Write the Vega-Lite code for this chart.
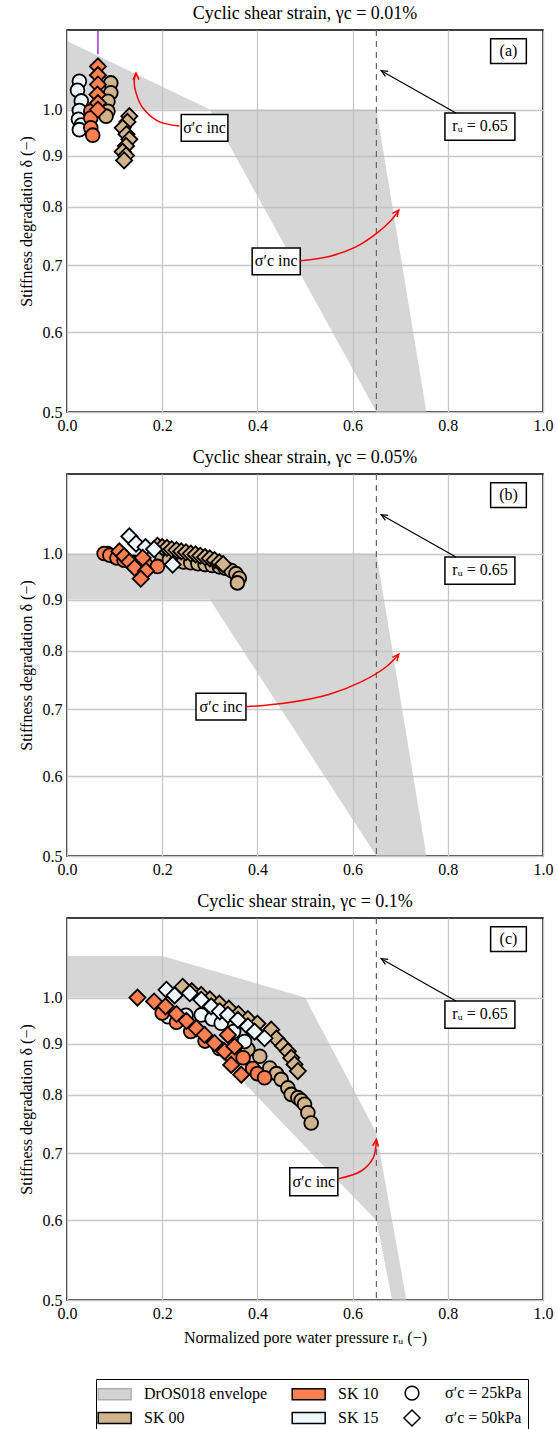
{
  "$schema": "https://vega.github.io/schema/vega-lite/v6.json",
  "padding": {"left": 17, "top": 4, "right": 5, "bottom": 0},
  "bounds": "flush",
  "spacing": 62,
  "datasets": {
    "env": [
      {"p": "a", "x": 0, "hi": 1.17, "lo": 1.0}, {"p": "a", "x": 0.3, "hi": 1.0, "lo": 1.0}, {"p": "a", "x": 0.65, "hi": 1.0, "lo": 0.5}, {"p": "a", "x": 0.755, "hi": 0.5, "lo": 0.5},
      {"p": "b", "x": 0, "hi": 1.0, "lo": 0.9}, {"p": "b", "x": 0.3, "hi": 1.0, "lo": 0.9}, {"p": "b", "x": 0.65, "hi": 1.0, "lo": 0.5}, {"p": "b", "x": 0.755, "hi": 0.5, "lo": 0.5},
      {"p": "c", "x": 0, "hi": 1.1, "lo": 1.0}, {"p": "c", "x": 0.2, "hi": 1.1, "lo": 1.0}, {"p": "c", "x": 0.5, "hi": 1.0, "lo": 0.711}, {"p": "c", "x": 0.65, "hi": 0.733, "lo": 0.6}, {"p": "c", "x": 0.683, "hi": 0.6, "lo": 0.5}, {"p": "c", "x": 0.713, "hi": 0.5, "lo": 0.5}
    ],
    "pts": [
      {"p": "a", "s": "SK 00", "c": "σ′c = 25kPa", "x": 0.092, "y": 1.063},
      {"p": "a", "s": "SK 00", "c": "σ′c = 25kPa", "x": 0.092, "y": 1.039},
      {"p": "a", "s": "SK 00", "c": "σ′c = 25kPa", "x": 0.086, "y": 1.019},
      {"p": "a", "s": "SK 00", "c": "σ′c = 25kPa", "x": 0.086, "y": 0.996},
      {"p": "a", "s": "SK 00", "c": "σ′c = 25kPa", "x": 0.082, "y": 0.985},
      {"p": "a", "s": "SK 00", "c": "σ′c = 50kPa", "x": 0.131, "y": 0.985},
      {"p": "a", "s": "SK 00", "c": "σ′c = 50kPa", "x": 0.127, "y": 0.972},
      {"p": "a", "s": "SK 00", "c": "σ′c = 50kPa", "x": 0.117, "y": 0.959},
      {"p": "a", "s": "SK 00", "c": "σ′c = 50kPa", "x": 0.125, "y": 0.945},
      {"p": "a", "s": "SK 00", "c": "σ′c = 50kPa", "x": 0.131, "y": 0.934},
      {"p": "a", "s": "SK 00", "c": "σ′c = 50kPa", "x": 0.124, "y": 0.92},
      {"p": "a", "s": "SK 00", "c": "σ′c = 50kPa", "x": 0.117, "y": 0.908},
      {"p": "a", "s": "SK 00", "c": "σ′c = 50kPa", "x": 0.124, "y": 0.9},
      {"p": "a", "s": "SK 00", "c": "σ′c = 50kPa", "x": 0.12, "y": 0.89},
      {"p": "a", "s": "SK 15", "c": "σ′c = 25kPa", "x": 0.026, "y": 1.067},
      {"p": "a", "s": "SK 15", "c": "σ′c = 25kPa", "x": 0.022, "y": 1.045},
      {"p": "a", "s": "SK 15", "c": "σ′c = 25kPa", "x": 0.03, "y": 1.02},
      {"p": "a", "s": "SK 15", "c": "σ′c = 25kPa", "x": 0.026, "y": 0.998},
      {"p": "a", "s": "SK 15", "c": "σ′c = 25kPa", "x": 0.024, "y": 0.978},
      {"p": "a", "s": "SK 15", "c": "σ′c = 25kPa", "x": 0.03, "y": 0.965},
      {"p": "a", "s": "SK 15", "c": "σ′c = 25kPa", "x": 0.026, "y": 0.955},
      {"p": "a", "s": "SK 10", "c": "σ′c = 25kPa", "x": 0.05, "y": 0.996},
      {"p": "a", "s": "SK 10", "c": "σ′c = 25kPa", "x": 0.05, "y": 0.981},
      {"p": "a", "s": "SK 10", "c": "σ′c = 25kPa", "x": 0.05, "y": 0.959},
      {"p": "a", "s": "SK 10", "c": "σ′c = 25kPa", "x": 0.054, "y": 0.943},
      {"p": "a", "s": "SK 10", "c": "σ′c = 50kPa", "x": 0.065, "y": 1.104},
      {"p": "a", "s": "SK 10", "c": "σ′c = 50kPa", "x": 0.065, "y": 1.082},
      {"p": "a", "s": "SK 10", "c": "σ′c = 50kPa", "x": 0.065, "y": 1.059},
      {"p": "a", "s": "SK 10", "c": "σ′c = 50kPa", "x": 0.064, "y": 1.035},
      {"p": "a", "s": "SK 10", "c": "σ′c = 50kPa", "x": 0.065, "y": 1.015},
      {"p": "a", "s": "SK 10", "c": "σ′c = 50kPa", "x": 0.065, "y": 1.0},

      {"p": "b", "s": "SK 00", "c": "σ′c = 25kPa", "x": 0.2, "y": 0.99},
      {"p": "b", "s": "SK 00", "c": "σ′c = 25kPa", "x": 0.215, "y": 0.986},
      {"p": "b", "s": "SK 00", "c": "σ′c = 25kPa", "x": 0.23, "y": 0.983},
      {"p": "b", "s": "SK 00", "c": "σ′c = 25kPa", "x": 0.245, "y": 0.981},
      {"p": "b", "s": "SK 00", "c": "σ′c = 25kPa", "x": 0.26, "y": 0.979},
      {"p": "b", "s": "SK 00", "c": "σ′c = 25kPa", "x": 0.275, "y": 0.977},
      {"p": "b", "s": "SK 00", "c": "σ′c = 25kPa", "x": 0.29, "y": 0.975},
      {"p": "b", "s": "SK 00", "c": "σ′c = 25kPa", "x": 0.305, "y": 0.973},
      {"p": "b", "s": "SK 00", "c": "σ′c = 25kPa", "x": 0.32, "y": 0.97},
      {"p": "b", "s": "SK 00", "c": "σ′c = 25kPa", "x": 0.333, "y": 0.967},
      {"p": "b", "s": "SK 00", "c": "σ′c = 25kPa", "x": 0.345, "y": 0.962},
      {"p": "b", "s": "SK 00", "c": "σ′c = 25kPa", "x": 0.355, "y": 0.955},
      {"p": "b", "s": "SK 00", "c": "σ′c = 25kPa", "x": 0.362, "y": 0.945},
      {"p": "b", "s": "SK 00", "c": "σ′c = 25kPa", "x": 0.358, "y": 0.935},
      {"p": "b", "s": "SK 00", "c": "σ′c = 50kPa", "x": 0.19, "y": 1.018},
      {"p": "b", "s": "SK 00", "c": "σ′c = 50kPa", "x": 0.2, "y": 1.015},
      {"p": "b", "s": "SK 00", "c": "σ′c = 50kPa", "x": 0.21, "y": 1.013},
      {"p": "b", "s": "SK 00", "c": "σ′c = 50kPa", "x": 0.22, "y": 1.01},
      {"p": "b", "s": "SK 00", "c": "σ′c = 50kPa", "x": 0.23, "y": 1.008},
      {"p": "b", "s": "SK 00", "c": "σ′c = 50kPa", "x": 0.24, "y": 1.005},
      {"p": "b", "s": "SK 00", "c": "σ′c = 50kPa", "x": 0.25, "y": 1.003},
      {"p": "b", "s": "SK 00", "c": "σ′c = 50kPa", "x": 0.26, "y": 1.0},
      {"p": "b", "s": "SK 00", "c": "σ′c = 50kPa", "x": 0.27, "y": 0.998},
      {"p": "b", "s": "SK 00", "c": "σ′c = 50kPa", "x": 0.28, "y": 0.995},
      {"p": "b", "s": "SK 00", "c": "σ′c = 50kPa", "x": 0.29, "y": 0.992},
      {"p": "b", "s": "SK 00", "c": "σ′c = 50kPa", "x": 0.3, "y": 0.989},
      {"p": "b", "s": "SK 00", "c": "σ′c = 50kPa", "x": 0.31, "y": 0.985},
      {"p": "b", "s": "SK 00", "c": "σ′c = 50kPa", "x": 0.32, "y": 0.98},
      {"p": "b", "s": "SK 00", "c": "σ′c = 50kPa", "x": 0.328, "y": 0.976},
      {"p": "b", "s": "SK 15", "c": "σ′c = 25kPa", "x": 0.085, "y": 1.0},
      {"p": "b", "s": "SK 15", "c": "σ′c = 25kPa", "x": 0.1, "y": 0.993},
      {"p": "b", "s": "SK 15", "c": "σ′c = 25kPa", "x": 0.12, "y": 0.986},
      {"p": "b", "s": "SK 15", "c": "σ′c = 25kPa", "x": 0.14, "y": 0.98},
      {"p": "b", "s": "SK 15", "c": "σ′c = 50kPa", "x": 0.131, "y": 1.04},
      {"p": "b", "s": "SK 15", "c": "σ′c = 50kPa", "x": 0.145, "y": 1.023},
      {"p": "b", "s": "SK 15", "c": "σ′c = 50kPa", "x": 0.165, "y": 1.015},
      {"p": "b", "s": "SK 15", "c": "σ′c = 50kPa", "x": 0.183, "y": 1.01},
      {"p": "b", "s": "SK 15", "c": "σ′c = 50kPa", "x": 0.222, "y": 0.975},
      {"p": "b", "s": "SK 10", "c": "σ′c = 25kPa", "x": 0.078, "y": 1.0},
      {"p": "b", "s": "SK 10", "c": "σ′c = 25kPa", "x": 0.09, "y": 0.996},
      {"p": "b", "s": "SK 10", "c": "σ′c = 25kPa", "x": 0.105, "y": 0.99},
      {"p": "b", "s": "SK 10", "c": "σ′c = 25kPa", "x": 0.12, "y": 0.985},
      {"p": "b", "s": "SK 10", "c": "σ′c = 25kPa", "x": 0.14, "y": 0.979},
      {"p": "b", "s": "SK 10", "c": "σ′c = 25kPa", "x": 0.165, "y": 0.975},
      {"p": "b", "s": "SK 10", "c": "σ′c = 25kPa", "x": 0.19, "y": 0.971},
      {"p": "b", "s": "SK 10", "c": "σ′c = 50kPa", "x": 0.11, "y": 1.005},
      {"p": "b", "s": "SK 10", "c": "σ′c = 50kPa", "x": 0.12, "y": 0.994},
      {"p": "b", "s": "SK 10", "c": "σ′c = 50kPa", "x": 0.131, "y": 0.981},
      {"p": "b", "s": "SK 10", "c": "σ′c = 50kPa", "x": 0.159, "y": 0.99},
      {"p": "b", "s": "SK 10", "c": "σ′c = 50kPa", "x": 0.142, "y": 0.968},
      {"p": "b", "s": "SK 10", "c": "σ′c = 50kPa", "x": 0.166, "y": 0.961},
      {"p": "b", "s": "SK 10", "c": "σ′c = 50kPa", "x": 0.155, "y": 0.944},

      {"p": "c", "s": "SK 00", "c": "σ′c = 25kPa", "x": 0.36, "y": 0.9},
      {"p": "c", "s": "SK 00", "c": "σ′c = 25kPa", "x": 0.38, "y": 0.888},
      {"p": "c", "s": "SK 00", "c": "σ′c = 25kPa", "x": 0.405, "y": 0.874},
      {"p": "c", "s": "SK 00", "c": "σ′c = 25kPa", "x": 0.426, "y": 0.851},
      {"p": "c", "s": "SK 00", "c": "σ′c = 25kPa", "x": 0.44, "y": 0.84},
      {"p": "c", "s": "SK 00", "c": "σ′c = 25kPa", "x": 0.45, "y": 0.829},
      {"p": "c", "s": "SK 00", "c": "σ′c = 25kPa", "x": 0.464, "y": 0.813},
      {"p": "c", "s": "SK 00", "c": "σ′c = 25kPa", "x": 0.471, "y": 0.801},
      {"p": "c", "s": "SK 00", "c": "σ′c = 25kPa", "x": 0.485, "y": 0.795},
      {"p": "c", "s": "SK 00", "c": "σ′c = 25kPa", "x": 0.492, "y": 0.79},
      {"p": "c", "s": "SK 00", "c": "σ′c = 25kPa", "x": 0.499, "y": 0.783},
      {"p": "c", "s": "SK 00", "c": "σ′c = 25kPa", "x": 0.506, "y": 0.768},
      {"p": "c", "s": "SK 00", "c": "σ′c = 25kPa", "x": 0.513, "y": 0.75},
      {"p": "c", "s": "SK 00", "c": "σ′c = 50kPa", "x": 0.243, "y": 1.025},
      {"p": "c", "s": "SK 00", "c": "σ′c = 50kPa", "x": 0.262, "y": 1.015},
      {"p": "c", "s": "SK 00", "c": "σ′c = 50kPa", "x": 0.282, "y": 1.006},
      {"p": "c", "s": "SK 00", "c": "σ′c = 50kPa", "x": 0.3, "y": 0.996},
      {"p": "c", "s": "SK 00", "c": "σ′c = 50kPa", "x": 0.32, "y": 0.986},
      {"p": "c", "s": "SK 00", "c": "σ′c = 50kPa", "x": 0.34, "y": 0.975},
      {"p": "c", "s": "SK 00", "c": "σ′c = 50kPa", "x": 0.36, "y": 0.963},
      {"p": "c", "s": "SK 00", "c": "σ′c = 50kPa", "x": 0.38, "y": 0.952},
      {"p": "c", "s": "SK 00", "c": "σ′c = 50kPa", "x": 0.4, "y": 0.942},
      {"p": "c", "s": "SK 00", "c": "σ′c = 50kPa", "x": 0.429, "y": 0.929},
      {"p": "c", "s": "SK 00", "c": "σ′c = 50kPa", "x": 0.44, "y": 0.91},
      {"p": "c", "s": "SK 00", "c": "σ′c = 50kPa", "x": 0.454, "y": 0.895},
      {"p": "c", "s": "SK 00", "c": "σ′c = 50kPa", "x": 0.464, "y": 0.884},
      {"p": "c", "s": "SK 00", "c": "σ′c = 50kPa", "x": 0.471, "y": 0.871},
      {"p": "c", "s": "SK 00", "c": "σ′c = 50kPa", "x": 0.478, "y": 0.858},
      {"p": "c", "s": "SK 00", "c": "σ′c = 50kPa", "x": 0.485, "y": 0.845},
      {"p": "c", "s": "SK 15", "c": "σ′c = 25kPa", "x": 0.212, "y": 0.957},
      {"p": "c", "s": "SK 15", "c": "σ′c = 25kPa", "x": 0.25, "y": 0.96},
      {"p": "c", "s": "SK 15", "c": "σ′c = 25kPa", "x": 0.282, "y": 0.961},
      {"p": "c", "s": "SK 15", "c": "σ′c = 25kPa", "x": 0.305, "y": 0.952},
      {"p": "c", "s": "SK 15", "c": "σ′c = 25kPa", "x": 0.324, "y": 0.943},
      {"p": "c", "s": "SK 15", "c": "σ′c = 25kPa", "x": 0.35, "y": 0.925},
      {"p": "c", "s": "SK 15", "c": "σ′c = 25kPa", "x": 0.373, "y": 0.904},
      {"p": "c", "s": "SK 15", "c": "σ′c = 50kPa", "x": 0.209, "y": 1.018},
      {"p": "c", "s": "SK 15", "c": "σ′c = 50kPa", "x": 0.226, "y": 1.005},
      {"p": "c", "s": "SK 15", "c": "σ′c = 50kPa", "x": 0.258, "y": 1.01},
      {"p": "c", "s": "SK 15", "c": "σ′c = 50kPa", "x": 0.282, "y": 0.995},
      {"p": "c", "s": "SK 15", "c": "σ′c = 50kPa", "x": 0.303, "y": 0.98},
      {"p": "c", "s": "SK 15", "c": "σ′c = 50kPa", "x": 0.321, "y": 0.969},
      {"p": "c", "s": "SK 15", "c": "σ′c = 50kPa", "x": 0.338, "y": 0.961},
      {"p": "c", "s": "SK 15", "c": "σ′c = 50kPa", "x": 0.359, "y": 0.95},
      {"p": "c", "s": "SK 15", "c": "σ′c = 50kPa", "x": 0.38, "y": 0.936},
      {"p": "c", "s": "SK 15", "c": "σ′c = 50kPa", "x": 0.394, "y": 0.925},
      {"p": "c", "s": "SK 15", "c": "σ′c = 50kPa", "x": 0.415, "y": 0.911},
      {"p": "c", "s": "SK 10", "c": "σ′c = 25kPa", "x": 0.2, "y": 0.965},
      {"p": "c", "s": "SK 10", "c": "σ′c = 25kPa", "x": 0.23, "y": 0.945},
      {"p": "c", "s": "SK 10", "c": "σ′c = 25kPa", "x": 0.26, "y": 0.925},
      {"p": "c", "s": "SK 10", "c": "σ′c = 25kPa", "x": 0.29, "y": 0.905},
      {"p": "c", "s": "SK 10", "c": "σ′c = 25kPa", "x": 0.32, "y": 0.89},
      {"p": "c", "s": "SK 10", "c": "σ′c = 25kPa", "x": 0.345, "y": 0.875},
      {"p": "c", "s": "SK 10", "c": "σ′c = 25kPa", "x": 0.37, "y": 0.871},
      {"p": "c", "s": "SK 10", "c": "σ′c = 25kPa", "x": 0.39, "y": 0.85},
      {"p": "c", "s": "SK 10", "c": "σ′c = 25kPa", "x": 0.4, "y": 0.84},
      {"p": "c", "s": "SK 10", "c": "σ′c = 25kPa", "x": 0.415, "y": 0.832},
      {"p": "c", "s": "SK 10", "c": "σ′c = 50kPa", "x": 0.148, "y": 1.0},
      {"p": "c", "s": "SK 10", "c": "σ′c = 50kPa", "x": 0.183, "y": 0.991},
      {"p": "c", "s": "SK 10", "c": "σ′c = 50kPa", "x": 0.207, "y": 0.98},
      {"p": "c", "s": "SK 10", "c": "σ′c = 50kPa", "x": 0.23, "y": 0.963},
      {"p": "c", "s": "SK 10", "c": "σ′c = 50kPa", "x": 0.251, "y": 0.948},
      {"p": "c", "s": "SK 10", "c": "σ′c = 50kPa", "x": 0.272, "y": 0.932},
      {"p": "c", "s": "SK 10", "c": "σ′c = 50kPa", "x": 0.289, "y": 0.918},
      {"p": "c", "s": "SK 10", "c": "σ′c = 50kPa", "x": 0.31, "y": 0.901},
      {"p": "c", "s": "SK 10", "c": "σ′c = 50kPa", "x": 0.331, "y": 0.884},
      {"p": "c", "s": "SK 10", "c": "σ′c = 50kPa", "x": 0.338, "y": 0.918},
      {"p": "c", "s": "SK 10", "c": "σ′c = 50kPa", "x": 0.352, "y": 0.894},
      {"p": "c", "s": "SK 10", "c": "σ′c = 50kPa", "x": 0.345, "y": 0.857},
      {"p": "c", "s": "SK 10", "c": "σ′c = 50kPa", "x": 0.366, "y": 0.838}
    ],
    "bx": [
      {"p": "a", "x": 0.89, "x2": 0.965, "y": 1.111, "y2": 1.176},
      {"p": "a", "x": 0.794, "x2": 0.941, "y": 0.932, "y2": 0.992},
      {"p": "a", "x": 0.24, "x2": 0.338, "y": 0.93, "y2": 0.989},
      {"p": "a", "x": 0.389, "x2": 0.49, "y": 0.685, "y2": 0.728},
      {"p": "b", "x": 0.89, "x2": 0.965, "y": 1.111, "y2": 1.176},
      {"p": "b", "x": 0.794, "x2": 0.941, "y": 0.932, "y2": 0.992},
      {"p": "b", "x": 0.271, "x2": 0.376, "y": 0.683, "y2": 0.726},
      {"p": "c", "x": 0.89, "x2": 0.965, "y": 1.111, "y2": 1.176},
      {"p": "c", "x": 0.794, "x2": 0.941, "y": 0.932, "y2": 0.992},
      {"p": "c", "x": 0.468, "x2": 0.569, "y": 0.635, "y2": 0.677}
    ],
    "tx": [
      {"p": "a", "x": 0.9275, "y": 1.143, "t": "(a)"},
      {"p": "a", "x": 0.8675, "y": 0.962, "t": "rᵤ = 0.65"},
      {"p": "a", "x": 0.289, "y": 0.959, "t": "σ′c inc"},
      {"p": "a", "x": 0.4395, "y": 0.706, "t": "σ′c inc"},
      {"p": "b", "x": 0.9275, "y": 1.143, "t": "(b)"},
      {"p": "b", "x": 0.8675, "y": 0.962, "t": "rᵤ = 0.65"},
      {"p": "b", "x": 0.3235, "y": 0.704, "t": "σ′c inc"},
      {"p": "c", "x": 0.9275, "y": 1.143, "t": "(c)"},
      {"p": "c", "x": 0.8675, "y": 0.962, "t": "rᵤ = 0.65"},
      {"p": "c", "x": 0.5185, "y": 0.655, "t": "σ′c inc"}
    ],
    "arw": [
      {"p": "a", "x": 0.817, "y": 0.992, "x2": 0.66, "y2": 1.093},
      {"p": "b", "x": 0.817, "y": 0.992, "x2": 0.66, "y2": 1.093},
      {"p": "c", "x": 0.817, "y": 0.992, "x2": 0.66, "y2": 1.093}
    ],
    "hd": [
      {"p": "a", "k": "b", "x": 0.66, "y": 1.093},
      {"p": "b", "k": "b", "x": 0.66, "y": 1.093},
      {"p": "c", "k": "b", "x": 0.66, "y": 1.093},
      {"p": "a", "k": "r0", "x": 0.145, "y": 1.087},
      {"p": "a", "k": "r39", "x": 0.697, "y": 0.794},
      {"p": "b", "k": "r39", "x": 0.697, "y": 0.794},
      {"p": "c", "k": "r8", "x": 0.65, "y": 0.722}
    ],
    "crv": [
      {"p": "a", "k": "a1", "i": 0, "x": 0.236, "y": 0.963},
      {"p": "a", "k": "a1", "i": 1, "x": 0.191, "y": 0.974},
      {"p": "a", "k": "a1", "i": 2, "x": 0.159, "y": 1.004},
      {"p": "a", "k": "a1", "i": 3, "x": 0.145, "y": 1.039},
      {"p": "a", "k": "a1", "i": 4, "x": 0.141, "y": 1.067},
      {"p": "a", "k": "a1", "i": 5, "x": 0.145, "y": 1.087},
      {"p": "a", "k": "a2", "i": 0, "x": 0.49, "y": 0.707},
      {"p": "a", "k": "a2", "i": 1, "x": 0.555, "y": 0.715},
      {"p": "a", "k": "a2", "i": 2, "x": 0.607, "y": 0.73},
      {"p": "a", "k": "a2", "i": 3, "x": 0.649, "y": 0.752},
      {"p": "a", "k": "a2", "i": 4, "x": 0.681, "y": 0.776},
      {"p": "a", "k": "a2", "i": 5, "x": 0.697, "y": 0.794},
      {"p": "b", "k": "b1", "i": 0, "x": 0.376, "y": 0.704},
      {"p": "b", "k": "b1", "i": 1, "x": 0.46, "y": 0.71},
      {"p": "b", "k": "b1", "i": 2, "x": 0.55, "y": 0.724},
      {"p": "b", "k": "b1", "i": 3, "x": 0.62, "y": 0.746},
      {"p": "b", "k": "b1", "i": 4, "x": 0.67, "y": 0.771},
      {"p": "b", "k": "b1", "i": 5, "x": 0.697, "y": 0.794},
      {"p": "c", "k": "c1", "i": 0, "x": 0.569, "y": 0.66},
      {"p": "c", "k": "c1", "i": 1, "x": 0.618, "y": 0.672},
      {"p": "c", "k": "c1", "i": 2, "x": 0.643, "y": 0.692},
      {"p": "c", "k": "c1", "i": 3, "x": 0.65, "y": 0.722}
    ]
  },
  "vconcat": [
    {
      "width": 476, "height": 382,
      "title": "Cyclic shear strain, γc = 0.01%",
      "layer": [
        {"data": {"name": "env"}, "transform": [{"filter": "datum.p == 'a'"}],
         "mark": {"type": "area", "fill": "#c0c0c0", "opacity": 0.65},
         "encoding": {
           "x": {"field": "x", "type": "quantitative", "scale": {"domain": [0, 1], "nice": false, "zero": false}, "axis": {"values": [0, 0.2, 0.4, 0.6, 0.8, 1], "format": ".1f", "title": null}},
           "y": {"field": "hi", "type": "quantitative", "scale": {"type": "log", "domain": [0.5, 1.2], "nice": false}, "axis": {"values": [0.5, 0.6, 0.7, 0.8, 0.9, 1], "format": ".1f", "title": "Stiffness degradation δ (−)"}},
           "y2": {"field": "lo"}}},
        {"data": {"values": [{"x": 0.65}]}, "mark": {"type": "rule", "color": "#666666", "strokeDash": [6, 5], "strokeWidth": 1.2}, "encoding": {"x": {"field": "x", "type": "quantitative"}}},
        {"data": {"values": [{"x": 0.065, "y": 1.135, "y2": 1.2}]}, "mark": {"type": "rule", "color": "#9400D3", "strokeWidth": 1.2}, "encoding": {"x": {"field": "x", "type": "quantitative"}, "y": {"field": "y", "type": "quantitative"}, "y2": {"field": "y2"}}},
        {"data": {"name": "pts"}, "transform": [{"filter": "datum.p == 'a'"}],
         "mark": {"type": "point", "filled": true, "stroke": "black", "strokeWidth": 1.8, "opacity": 1},
         "encoding": {
           "x": {"field": "x", "type": "quantitative"},
           "y": {"field": "y", "type": "quantitative"},
           "fill": {"field": "s", "type": "nominal", "scale": {"domain": ["DrOS018 envelope", "SK 10", "σ′c = 25kPa", "SK 00", "SK 15", "σ′c = 50kPa"], "range": ["#d3d3d3", "#FF7F50", "#ffffff", "#D2B48C", "#F0F8FF", "#ffffff"]}, "legend": {"title": null, "orient": "none", "direction": "horizontal", "legendX": 29, "legendY": 1349, "encode": {"symbols": {"update": {"stroke": {"signal": "datum.value === 'DrOS018 envelope' ? '#b0b0b0' : 'black'"}, "strokeWidth": {"value": 1.5}}}}}},
           "shape": {"field": "c", "type": "nominal", "scale": {"domain": ["DrOS018 envelope", "SK 10", "σ′c = 25kPa", "SK 00", "SK 15", "σ′c = 50kPa"], "range": ["M -1.6 -0.69 H 2.52 V 0.69 H -1.6 Z", "M -1.6 -0.69 H 2.52 V 0.69 H -1.6 Z", "circle", "M -1.6 -0.69 H 2.52 V 0.69 H -1.6 Z", "M -1.6 -0.69 H 2.52 V 0.69 H -1.6 Z", "diamond"]}, "legend": {"title": null, "orient": "none", "direction": "horizontal", "legendX": 29, "legendY": 1349, "encode": {"symbols": {"update": {"stroke": {"signal": "datum.value === 'DrOS018 envelope' ? '#b0b0b0' : 'black'"}, "strokeWidth": {"value": 1.5}}}}}},
           "size": {"field": "c", "type": "nominal", "scale": {"type": "ordinal", "domain": ["DrOS018 envelope", "SK 10", "σ′c = 25kPa", "SK 00", "SK 15", "σ′c = 50kPa"], "range": [256, 256, 190, 256, 256, 260]}, "legend": {"title": null, "orient": "none", "direction": "horizontal", "legendX": 29, "legendY": 1349, "encode": {"symbols": {"update": {"stroke": {"signal": "datum.value === 'DrOS018 envelope' ? '#b0b0b0' : 'black'"}, "strokeWidth": {"value": 1.5}}}}}}}},
        {"data": {"name": "bx"}, "transform": [{"filter": "datum.p == 'a'"}], "mark": {"type": "rect", "fill": "white", "stroke": "black", "strokeWidth": 1.5}, "encoding": {"x": {"field": "x", "type": "quantitative"}, "x2": {"field": "x2"}, "y": {"field": "y", "type": "quantitative"}, "y2": {"field": "y2"}}},
        {"data": {"name": "tx"}, "transform": [{"filter": "datum.p == 'a'"}], "mark": {"type": "text", "font": "Liberation Serif", "fontSize": 16, "color": "black"}, "encoding": {"x": {"field": "x", "type": "quantitative"}, "y": {"field": "y", "type": "quantitative"}, "text": {"field": "t"}}},
        {"data": {"name": "arw"}, "transform": [{"filter": "datum.p == 'a'"}], "mark": {"type": "rule", "color": "black", "strokeWidth": 1.2}, "encoding": {"x": {"field": "x", "type": "quantitative"}, "y": {"field": "y", "type": "quantitative"}, "x2": {"field": "x2"}, "y2": {"field": "y2"}}},
        {"data": {"name": "crv"}, "transform": [{"filter": "datum.p == 'a'"}], "mark": {"type": "line", "color": "red", "strokeWidth": 1.5, "interpolate": "catmull-rom"}, "encoding": {"x": {"field": "x", "type": "quantitative"}, "y": {"field": "y", "type": "quantitative"}, "detail": {"field": "k"}, "order": {"field": "i"}}},
        {"data": {"name": "hd"}, "transform": [{"filter": "datum.p == 'a' && datum.k == 'b'"}], "mark": {"type": "point", "shape": "M -0.45 1 L 0 0 L 0.45 1", "filled": false, "stroke": "black", "strokeWidth": 1.2, "size": 170, "angle": 299, "opacity": 1}, "encoding": {"x": {"field": "x", "type": "quantitative"}, "y": {"field": "y", "type": "quantitative"}}},
        {"data": {"name": "hd"}, "transform": [{"filter": "datum.p == 'a' && datum.k == 'r0'"}], "mark": {"type": "point", "shape": "M -0.45 1 L 0 0 L 0.45 1", "filled": false, "stroke": "red", "strokeWidth": 1.5, "size": 170, "angle": 0, "opacity": 1}, "encoding": {"x": {"field": "x", "type": "quantitative"}, "y": {"field": "y", "type": "quantitative"}}},
        {"data": {"name": "hd"}, "transform": [{"filter": "datum.p == 'a' && datum.k == 'r39'"}], "mark": {"type": "point", "shape": "M -0.45 1 L 0 0 L 0.45 1", "filled": false, "stroke": "red", "strokeWidth": 1.5, "size": 170, "angle": 39, "opacity": 1}, "encoding": {"x": {"field": "x", "type": "quantitative"}, "y": {"field": "y", "type": "quantitative"}}}
      ]
    },
    {
      "width": 476, "height": 382,
      "title": "Cyclic shear strain, γc = 0.05%",
      "layer": [
        {"data": {"name": "env"}, "transform": [{"filter": "datum.p == 'b'"}],
         "mark": {"type": "area", "fill": "#c0c0c0", "opacity": 0.65},
         "encoding": {
           "x": {"field": "x", "type": "quantitative", "scale": {"domain": [0, 1], "nice": false, "zero": false}, "axis": {"values": [0, 0.2, 0.4, 0.6, 0.8, 1], "format": ".1f", "title": null}},
           "y": {"field": "hi", "type": "quantitative", "scale": {"type": "log", "domain": [0.5, 1.2], "nice": false}, "axis": {"values": [0.5, 0.6, 0.7, 0.8, 0.9, 1], "format": ".1f", "title": "Stiffness degradation δ (−)"}},
           "y2": {"field": "lo"}}},
        {"data": {"values": [{"x": 0.65}]}, "mark": {"type": "rule", "color": "#666666", "strokeDash": [6, 5], "strokeWidth": 1.2}, "encoding": {"x": {"field": "x", "type": "quantitative"}}},
        {"data": {"name": "pts"}, "transform": [{"filter": "datum.p == 'b'"}],
         "mark": {"type": "point", "filled": true, "stroke": "black", "strokeWidth": 1.8, "opacity": 1},
         "encoding": {
           "x": {"field": "x", "type": "quantitative"},
           "y": {"field": "y", "type": "quantitative"},
           "fill": {"field": "s", "type": "nominal", "scale": {"domain": ["DrOS018 envelope", "SK 10", "σ′c = 25kPa", "SK 00", "SK 15", "σ′c = 50kPa"], "range": ["#d3d3d3", "#FF7F50", "#ffffff", "#D2B48C", "#F0F8FF", "#ffffff"]}, "legend": {"title": null, "orient": "none", "direction": "horizontal", "legendX": 29, "legendY": 1349, "encode": {"symbols": {"update": {"stroke": {"signal": "datum.value === 'DrOS018 envelope' ? '#b0b0b0' : 'black'"}, "strokeWidth": {"value": 1.5}}}}}},
           "shape": {"field": "c", "type": "nominal", "scale": {"domain": ["DrOS018 envelope", "SK 10", "σ′c = 25kPa", "SK 00", "SK 15", "σ′c = 50kPa"], "range": ["M -1.6 -0.69 H 2.52 V 0.69 H -1.6 Z", "M -1.6 -0.69 H 2.52 V 0.69 H -1.6 Z", "circle", "M -1.6 -0.69 H 2.52 V 0.69 H -1.6 Z", "M -1.6 -0.69 H 2.52 V 0.69 H -1.6 Z", "diamond"]}, "legend": {"title": null, "orient": "none", "direction": "horizontal", "legendX": 29, "legendY": 1349, "encode": {"symbols": {"update": {"stroke": {"signal": "datum.value === 'DrOS018 envelope' ? '#b0b0b0' : 'black'"}, "strokeWidth": {"value": 1.5}}}}}},
           "size": {"field": "c", "type": "nominal", "scale": {"type": "ordinal", "domain": ["DrOS018 envelope", "SK 10", "σ′c = 25kPa", "SK 00", "SK 15", "σ′c = 50kPa"], "range": [256, 256, 190, 256, 256, 260]}, "legend": {"title": null, "orient": "none", "direction": "horizontal", "legendX": 29, "legendY": 1349, "encode": {"symbols": {"update": {"stroke": {"signal": "datum.value === 'DrOS018 envelope' ? '#b0b0b0' : 'black'"}, "strokeWidth": {"value": 1.5}}}}}}}},
        {"data": {"name": "bx"}, "transform": [{"filter": "datum.p == 'b'"}], "mark": {"type": "rect", "fill": "white", "stroke": "black", "strokeWidth": 1.5}, "encoding": {"x": {"field": "x", "type": "quantitative"}, "x2": {"field": "x2"}, "y": {"field": "y", "type": "quantitative"}, "y2": {"field": "y2"}}},
        {"data": {"name": "tx"}, "transform": [{"filter": "datum.p == 'b'"}], "mark": {"type": "text", "font": "Liberation Serif", "fontSize": 16, "color": "black"}, "encoding": {"x": {"field": "x", "type": "quantitative"}, "y": {"field": "y", "type": "quantitative"}, "text": {"field": "t"}}},
        {"data": {"name": "arw"}, "transform": [{"filter": "datum.p == 'b'"}], "mark": {"type": "rule", "color": "black", "strokeWidth": 1.2}, "encoding": {"x": {"field": "x", "type": "quantitative"}, "y": {"field": "y", "type": "quantitative"}, "x2": {"field": "x2"}, "y2": {"field": "y2"}}},
        {"data": {"name": "crv"}, "transform": [{"filter": "datum.p == 'b'"}], "mark": {"type": "line", "color": "red", "strokeWidth": 1.5, "interpolate": "catmull-rom"}, "encoding": {"x": {"field": "x", "type": "quantitative"}, "y": {"field": "y", "type": "quantitative"}, "detail": {"field": "k"}, "order": {"field": "i"}}},
        {"data": {"name": "hd"}, "transform": [{"filter": "datum.p == 'b' && datum.k == 'b'"}], "mark": {"type": "point", "shape": "M -0.45 1 L 0 0 L 0.45 1", "filled": false, "stroke": "black", "strokeWidth": 1.2, "size": 170, "angle": 299, "opacity": 1}, "encoding": {"x": {"field": "x", "type": "quantitative"}, "y": {"field": "y", "type": "quantitative"}}},
        {"data": {"name": "hd"}, "transform": [{"filter": "datum.p == 'b' && datum.k == 'r39'"}], "mark": {"type": "point", "shape": "M -0.45 1 L 0 0 L 0.45 1", "filled": false, "stroke": "red", "strokeWidth": 1.5, "size": 170, "angle": 39, "opacity": 1}, "encoding": {"x": {"field": "x", "type": "quantitative"}, "y": {"field": "y", "type": "quantitative"}}}
      ]
    },
    {
      "width": 476, "height": 382,
      "title": "Cyclic shear strain, γc = 0.1%",
      "layer": [
        {"data": {"name": "env"}, "transform": [{"filter": "datum.p == 'c'"}],
         "mark": {"type": "area", "fill": "#c0c0c0", "opacity": 0.65},
         "encoding": {
           "x": {"field": "x", "type": "quantitative", "scale": {"domain": [0, 1], "nice": false, "zero": false}, "axis": {"values": [0, 0.2, 0.4, 0.6, 0.8, 1], "format": ".1f", "title": "Normalized pore water pressure rᵤ (−)"}},
           "y": {"field": "hi", "type": "quantitative", "scale": {"type": "log", "domain": [0.5, 1.2], "nice": false}, "axis": {"values": [0.5, 0.6, 0.7, 0.8, 0.9, 1], "format": ".1f", "title": "Stiffness degradation δ (−)"}},
           "y2": {"field": "lo"}}},
        {"data": {"values": [{"x": 0.65}]}, "mark": {"type": "rule", "color": "#666666", "strokeDash": [6, 5], "strokeWidth": 1.2}, "encoding": {"x": {"field": "x", "type": "quantitative"}}},
        {"data": {"name": "pts"}, "transform": [{"filter": "datum.p == 'c'"}],
         "mark": {"type": "point", "filled": true, "stroke": "black", "strokeWidth": 1.8, "opacity": 1},
         "encoding": {
           "x": {"field": "x", "type": "quantitative"},
           "y": {"field": "y", "type": "quantitative"},
           "fill": {"field": "s", "type": "nominal", "scale": {"domain": ["DrOS018 envelope", "SK 10", "σ′c = 25kPa", "SK 00", "SK 15", "σ′c = 50kPa"], "range": ["#d3d3d3", "#FF7F50", "#ffffff", "#D2B48C", "#F0F8FF", "#ffffff"]}, "legend": {"title": null, "orient": "none", "direction": "horizontal", "legendX": 29, "legendY": 1349, "encode": {"symbols": {"update": {"stroke": {"signal": "datum.value === 'DrOS018 envelope' ? '#b0b0b0' : 'black'"}, "strokeWidth": {"value": 1.5}}}}}},
           "shape": {"field": "c", "type": "nominal", "scale": {"domain": ["DrOS018 envelope", "SK 10", "σ′c = 25kPa", "SK 00", "SK 15", "σ′c = 50kPa"], "range": ["M -1.6 -0.69 H 2.52 V 0.69 H -1.6 Z", "M -1.6 -0.69 H 2.52 V 0.69 H -1.6 Z", "circle", "M -1.6 -0.69 H 2.52 V 0.69 H -1.6 Z", "M -1.6 -0.69 H 2.52 V 0.69 H -1.6 Z", "diamond"]}, "legend": {"title": null, "orient": "none", "direction": "horizontal", "legendX": 29, "legendY": 1349, "encode": {"symbols": {"update": {"stroke": {"signal": "datum.value === 'DrOS018 envelope' ? '#b0b0b0' : 'black'"}, "strokeWidth": {"value": 1.5}}}}}},
           "size": {"field": "c", "type": "nominal", "scale": {"type": "ordinal", "domain": ["DrOS018 envelope", "SK 10", "σ′c = 25kPa", "SK 00", "SK 15", "σ′c = 50kPa"], "range": [256, 256, 190, 256, 256, 260]}, "legend": {"title": null, "orient": "none", "direction": "horizontal", "legendX": 29, "legendY": 1349, "encode": {"symbols": {"update": {"stroke": {"signal": "datum.value === 'DrOS018 envelope' ? '#b0b0b0' : 'black'"}, "strokeWidth": {"value": 1.5}}}}}}}},
        {"data": {"name": "bx"}, "transform": [{"filter": "datum.p == 'c'"}], "mark": {"type": "rect", "fill": "white", "stroke": "black", "strokeWidth": 1.5}, "encoding": {"x": {"field": "x", "type": "quantitative"}, "x2": {"field": "x2"}, "y": {"field": "y", "type": "quantitative"}, "y2": {"field": "y2"}}},
        {"data": {"name": "tx"}, "transform": [{"filter": "datum.p == 'c'"}], "mark": {"type": "text", "font": "Liberation Serif", "fontSize": 16, "color": "black"}, "encoding": {"x": {"field": "x", "type": "quantitative"}, "y": {"field": "y", "type": "quantitative"}, "text": {"field": "t"}}},
        {"data": {"name": "arw"}, "transform": [{"filter": "datum.p == 'c'"}], "mark": {"type": "rule", "color": "black", "strokeWidth": 1.2}, "encoding": {"x": {"field": "x", "type": "quantitative"}, "y": {"field": "y", "type": "quantitative"}, "x2": {"field": "x2"}, "y2": {"field": "y2"}}},
        {"data": {"name": "crv"}, "transform": [{"filter": "datum.p == 'c'"}], "mark": {"type": "line", "color": "red", "strokeWidth": 1.5, "interpolate": "catmull-rom"}, "encoding": {"x": {"field": "x", "type": "quantitative"}, "y": {"field": "y", "type": "quantitative"}, "detail": {"field": "k"}, "order": {"field": "i"}}},
        {"data": {"name": "hd"}, "transform": [{"filter": "datum.p == 'c' && datum.k == 'b'"}], "mark": {"type": "point", "shape": "M -0.45 1 L 0 0 L 0.45 1", "filled": false, "stroke": "black", "strokeWidth": 1.2, "size": 170, "angle": 299, "opacity": 1}, "encoding": {"x": {"field": "x", "type": "quantitative"}, "y": {"field": "y", "type": "quantitative"}}},
        {"data": {"name": "hd"}, "transform": [{"filter": "datum.p == 'c' && datum.k == 'r8'"}], "mark": {"type": "point", "shape": "M -0.45 1 L 0 0 L 0.45 1", "filled": false, "stroke": "red", "strokeWidth": 1.5, "size": 170, "angle": 8, "opacity": 1}, "encoding": {"x": {"field": "x", "type": "quantitative"}, "y": {"field": "y", "type": "quantitative"}}}
      ]
    }
  ],
  "config": {
    "font": "Liberation Serif",
    "view": {"stroke": "black", "strokeWidth": 1.5},
    "axis": {"labelFont": "Liberation Serif", "labelFontSize": 16, "labelColor": "black", "labelFlush": false, "titleFont": "Liberation Serif", "titleFontSize": 16, "titleFontWeight": "normal", "titleColor": "black", "domain": false, "ticks": false, "gridColor": "#c8c8c8", "gridWidth": 1.3, "gridOpacity": 1, "labelPadding": 5, "titlePadding": 8},
    "title": {"font": "Liberation Serif", "fontSize": 18, "fontWeight": "normal", "offset": 6, "color": "black"},
    "legend": {"columns": 3, "labelFont": "Liberation Serif", "labelFontSize": 16, "labelColor": "black", "strokeColor": "black", "fillColor": "white", "padding": 6, "symbolStrokeColor": "black", "symbolStrokeWidth": 1.5, "symbolOpacity": 1, "labelOffset": 24, "columnPadding": 21, "rowPadding": 3, "labelLimit": 300}
  }
}
